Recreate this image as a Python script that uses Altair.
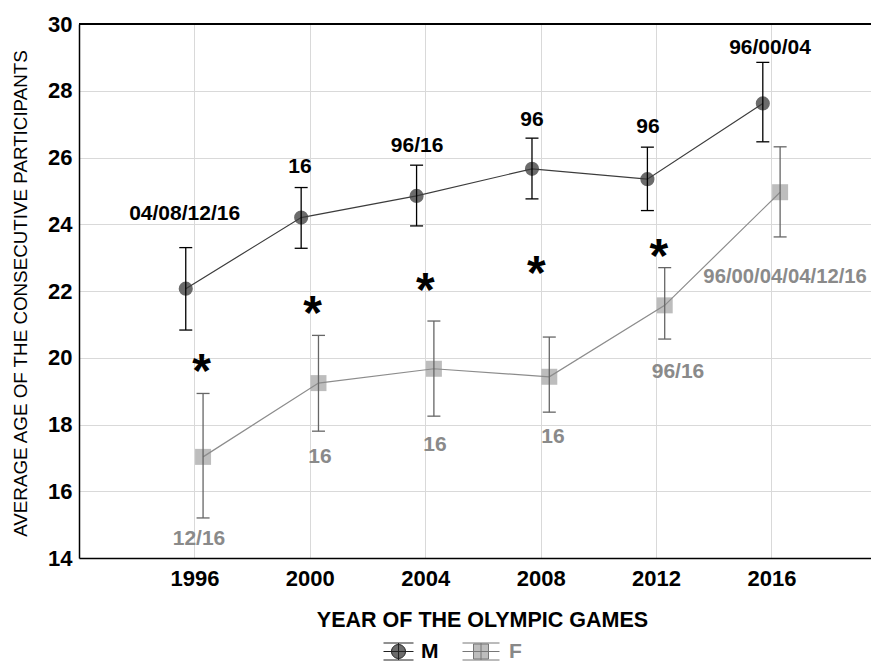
import altair as alt
import pandas as pd

FONT = "Liberation Sans"

# ---- data ----
years = [1996, 2000, 2004, 2008, 2012, 2016]
m_mean = [22.07, 24.2, 24.85, 25.66, 25.35, 27.62]
m_low = [20.83, 23.28, 23.95, 24.76, 24.41, 26.47]
m_high = [23.3, 25.1, 25.77, 26.58, 26.31, 28.85]
f_mean = [17.03, 19.24, 19.67, 19.43, 21.57, 24.96]
f_low = [15.2, 17.8, 18.25, 18.37, 20.56, 23.62]
f_high = [18.93, 20.67, 21.1, 20.62, 22.7, 26.32]

m_labels = ["04/08/12/16", "16", "96/16", "96", "96", "96/00/04"]
m_label_x = [1995.66, 1999.66, 2003.72, 2007.70, 2011.72, 2015.95]
m_label_y = [24.31, 25.72, 26.34, 27.12, 26.91, 29.28]

f_labels = ["12/16", "16", "16", "16", "96/16"]
f_label_x = [1996.16, 2000.35, 2004.34, 2008.43, 2012.76]
f_label_y = [14.57, 17.03, 17.39, 17.63, 19.57]
f_label_last = ["96/00/04/04/12/16"]
f_label_last_x = [2013.64]
f_label_last_y = [22.42]

star_x = [1996.25, 2000.1, 2004.0, 2007.85, 2012.1]
star_y = [19.93, 21.66, 22.35, 22.86, 23.37]

# ---- tables ----
df_m = pd.DataFrame({"year": years, "mean": m_mean, "lo": m_low, "hi": m_high})
df_m["x"] = df_m["year"] - 0.3
df_m["sexM"] = "M"
df_f = pd.DataFrame({"year": years, "mean": f_mean, "lo": f_low, "hi": f_high})
df_f["x"] = df_f["year"] + 0.3
df_f["sexF"] = "F"
df_ml = pd.DataFrame({"text": m_labels, "x": m_label_x, "y": m_label_y})
df_fl = pd.DataFrame({"text": f_labels, "x": f_label_x, "y": f_label_y})
df_fl2 = pd.DataFrame({"text": f_label_last, "x": f_label_last_x, "y": f_label_last_y})
df_star = pd.DataFrame({"x": star_x, "y": star_y, "text": ["*"] * len(star_x)})

W, H = 792, 534
xs = alt.Scale(domain=[1992, 2019.45], nice=False, zero=False)
ys = alt.Scale(domain=[14, 30], nice=False, zero=False)
xaxis = alt.Axis(values=years, format="d", title="YEAR OF THE OLYMPIC GAMES",
                 titleX=403, titleY=62, titleBaseline="middle", titleAlign="center",
                 titleFontSize=21.5, titleFontWeight="bold", labelPadding=10)
yaxis = alt.Axis(values=list(range(14, 31, 2)),
                 title="AVERAGE AGE OF THE CONSECUTIVE PARTICIPANTS",
                 titleX=-59, titleY=269, titleBaseline="middle", titleAlign="center",
                 titleAngle=-90, titleFontSize=18.8, titleFontWeight="normal", labelPadding=7)


def X(f):
    return alt.X(f"{f}:Q", scale=xs, axis=xaxis)


def Y(f):
    return alt.Y(f"{f}:Q", scale=ys, axis=yaxis)


M_SYM = ("M-1.5,-0.85H1.5M-1.5,0H1.5M-1.5,0.85H1.5M0,-0.85V0.85"
         "M-0.7,0A0.7,0.7 0 1,0 0.7,0A0.7,0.7 0 1,0 -0.7,0Z")
F_SYM = ("M-1.85,-0.85H1.85M-1.85,0H1.85M-1.85,0.85H1.85M0,-0.85V0.85"
         "M-0.75,-0.75H0.75V0.75H-0.75Z")

m_pts = alt.Chart(df_m).mark_circle(size=200, opacity=1).encode(
    x=X("x"), y=Y("mean"),
    color=alt.Color("sexM:N", scale=alt.Scale(domain=["M"], range=["#6b6b6b"]),
                    legend=alt.Legend(orient="none", legendX=309, legendY=617, title=None,
                                      symbolType=M_SYM, symbolSize=400, padding=0,
                                      symbolStrokeColor="#222222", symbolStrokeWidth=1,
                                      symbolFillColor="#6b6b6b",
                                      labelFontSize=21, labelFontWeight="bold",
                                      labelColor="black", labelOffset=12, labelFont=FONT)))
f_pts = alt.Chart(df_f).mark_square(size=256, opacity=1).encode(
    x=X("x"), y=Y("mean"),
    fill=alt.Fill("sexF:N", scale=alt.Scale(domain=["F"], range=["#bdbdbd"]),
                  legend=alt.Legend(orient="none", legendX=391.5, legendY=617, title=None,
                                    symbolType=F_SYM, symbolSize=400, padding=0,
                                    symbolStrokeColor="#777777", symbolStrokeWidth=1,
                                    symbolFillColor="#bdbdbd",
                                    labelFontSize=21, labelFontWeight="bold",
                                    labelColor="#888888", labelOffset=17.5, labelFont=FONT)))

m_line = alt.Chart(df_m).mark_line(color="#3c3c3c", strokeWidth=1.2).encode(x=X("x"), y=Y("mean"))
f_line = alt.Chart(df_f).mark_line(color="#8c8c8c", strokeWidth=1.2).encode(x=X("x"), y=Y("mean"))


def errbars(df, col):
    r = alt.Chart(df).mark_rule(color=col, strokeWidth=1.3).encode(x=X("x"), y=Y("lo"), y2="hi")
    t1 = alt.Chart(df).mark_tick(orient="horizontal", size=13, thickness=1.3, color=col,
                                 opacity=1).encode(x=X("x"), y=Y("lo"))
    t2 = alt.Chart(df).mark_tick(orient="horizontal", size=13, thickness=1.3, color=col,
                                 opacity=1).encode(x=X("x"), y=Y("hi"))
    return [r, t1, t2]


m_txt = alt.Chart(df_ml).mark_text(font=FONT, fontSize=21, fontWeight="bold", color="black",
                                   baseline="middle", align="center").encode(
    x=X("x"), y=Y("y"), text="text:N")
f_txt = alt.Chart(df_fl).mark_text(font=FONT, fontSize=21, fontWeight="bold", color="#8a8a8a",
                                   baseline="middle", align="center").encode(
    x=X("x"), y=Y("y"), text="text:N")
f_txt2 = alt.Chart(df_fl2).mark_text(font=FONT, fontSize=20.3, fontWeight="bold", color="#8a8a8a",
                                     baseline="middle", align="left").encode(
    x=X("x"), y=Y("y"), text="text:N")
stars = alt.Chart(df_star).mark_text(font=FONT, fontSize=48, fontWeight="bold", color="black",
                                     baseline="alphabetic", align="center", dy=27).encode(
    x=X("x"), y=Y("y"), text="text:N")

# top frame line of the plot (the right side of the frame lies outside the picture)
top_frame = alt.Chart(df_m).mark_rule(color="black", strokeWidth=1.5).encode(
    x=alt.value(0), x2=alt.value(W), y=alt.value(0))

layers = [top_frame, m_pts, f_pts, m_line, f_line] + errbars(df_m, "black") + \
    errbars(df_f, "#666666") + [m_txt, f_txt, f_txt2, stars]

chart = alt.layer(*layers).resolve_legend(color="independent", fill="independent").properties(
    width=W, height=H,
    padding={"left": 71, "top": 16, "right": 0, "bottom": 103},
    autosize=alt.AutoSizeParams(type="none"),
    background="white",
).configure_view(strokeWidth=0).configure_axis(
    labelFont=FONT, titleFont=FONT, labelFontSize=22, labelFontWeight="bold",
    labelColor="black", titleColor="black", gridColor="#d9d9d9", gridWidth=1,
    domainColor="black", domainWidth=1.5, ticks=False,
).configure_legend(labelFont=FONT)

chart.save("out.html", embed_options={"renderer": "svg", "actions": False})
